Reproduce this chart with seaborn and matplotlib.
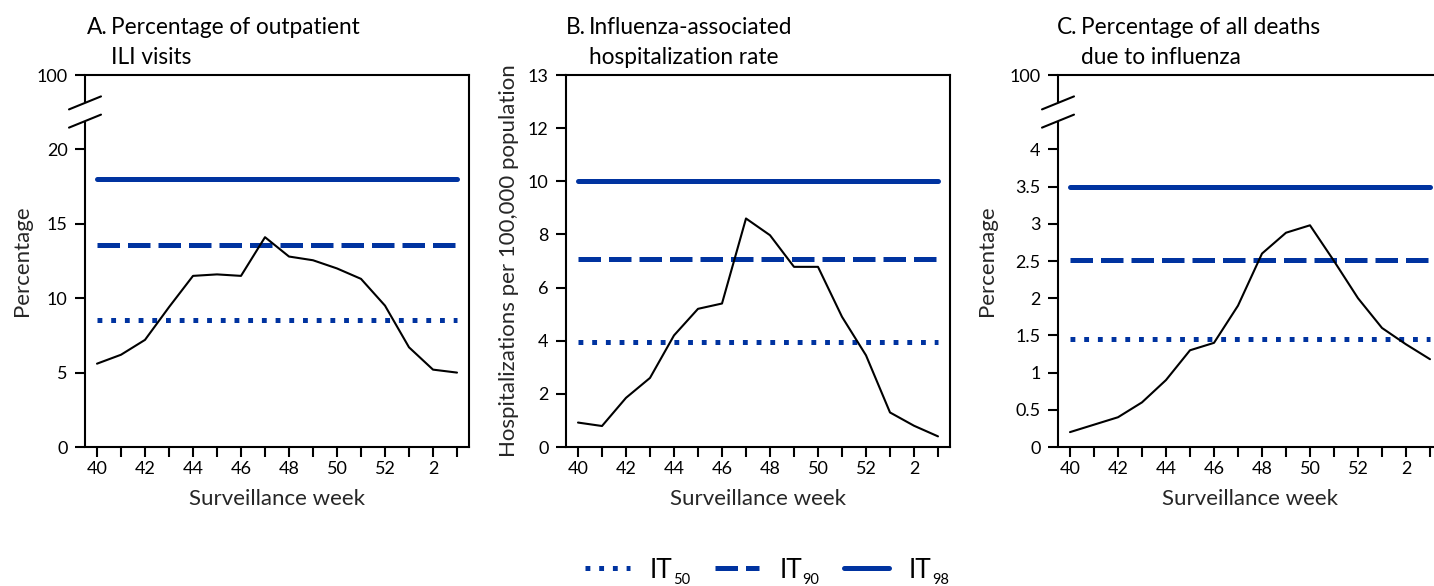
import numpy as np
import pandas as pd
import matplotlib
matplotlib.use("Agg")
import matplotlib.pyplot as plt
import seaborn as sns

# surveillance weeks (x axis) and tick labels
weeks = ["40", "41", "42", "43", "44", "45", "46", "47", "48", "49", "50", "51", "52", "1", "2", "3"]
week_ticklabels = ["40", "", "42", "", "44", "", "46", "", "48", "", "50", "", "52", "", "2", ""]

# A. percentage of outpatient ILI visits
ili_pct = [5.6, 6.2, 7.2, 9.4, 11.5, 11.6, 11.5, 14.1, 12.8, 12.55, 12.0, 11.3, 9.5, 6.7, 5.2, 5.0]
ili_thresholds = [8.55, 13.6, 18.0]          # IT50, IT90, IT98

# B. influenza-associated hospitalization rate
hosp_rate = [0.92, 0.79, 1.85, 2.6, 4.2, 5.2, 5.4, 8.6, 7.97, 6.78, 6.78, 4.9, 3.45, 1.3, 0.8, 0.4]
hosp_thresholds = [3.97, 7.08, 10.0]

# C. percentage of all deaths due to influenza
death_pct = [0.2, 0.3, 0.4, 0.6, 0.9, 1.3, 1.4, 1.9, 2.6, 2.88, 2.98, 2.5, 2.0, 1.6, 1.38, 1.18]
death_thresholds = [1.45, 2.51, 3.5]

threshold_names = ["IT", "IT", "IT"]
threshold_subs = ["50", "90", "98"]

BLUE = "#0033a0"
FONT = "Lato"

sns.set_style("ticks")
plt.rcParams["font.family"] = [FONT, "DejaVu Sans"]
plt.rcParams["axes.linewidth"] = 1.5
plt.rcParams["axes.edgecolor"] = "black"
plt.rcParams["xtick.major.width"] = 1.5
plt.rcParams["ytick.major.width"] = 1.5
plt.rcParams["xtick.major.size"] = 7
plt.rcParams["ytick.major.size"] = 7
plt.rcParams["xtick.color"] = "black"
plt.rcParams["ytick.color"] = "black"
plt.rcParams["text.color"] = "black"

W, H = 1434, 586
fig = plt.figure(figsize=(W / 100, H / 100), dpi=100)

it_styles = [(0, (0.97, 1.77)), (0, (4.5, 1.6)), "-"]


def px_ax(left, right):
    return fig.add_axes([left / W, (H - 447) / H, (right - left) / W, (447 - 75) / H])


def draw_panel(ax, values, thresholds, ymax, yticks, yticklabels, ylabel, ylabelpad, broken):
    x = np.arange(len(weeks))
    for thr, style in zip(thresholds, it_styles):
        df = pd.DataFrame({"week": x, "value": [thr] * len(x)})
        sns.lineplot(data=df, x="week", y="value", ax=ax, color=BLUE, lw=3.6,
                     linestyle=style, errorbar=None)
    sns.lineplot(x=x, y=values, ax=ax, color="black", lw=1.5, errorbar=None)

    ax.set_xlim(-0.5, 15.5)
    ax.set_ylim(0, ymax)
    ax.set_xticks(x)
    ax.set_xticklabels(week_ticklabels, fontsize=13)
    ax.set_yticks(yticks)
    ax.set_yticklabels(yticklabels, fontsize=13)
    ax.tick_params(axis="x", pad=3)
    ax.tick_params(axis="y", pad=5.5)
    ax.set_xlabel("Surveillance week", fontsize=16, labelpad=9)
    ax.set_ylabel(ylabel, fontsize=16, labelpad=ylabelpad)

    if broken:
        # axis break on the left spine
        ax.spines["left"].set_visible(False)
        lo, hi = 0.874, 0.927
        ax.plot([0, 0], [0, lo], transform=ax.transAxes, color="black", lw=1.5, clip_on=False,
                solid_capstyle="butt")
        ax.plot([0, 0], [hi, 1], transform=ax.transAxes, color="black", lw=1.5, clip_on=False,
                solid_capstyle="butt")
        dx, dy = 16 / 384, 6.5 / 372
        for yc in (0.876, 0.925):
            ax.plot([-dx, dx], [yc - dy, yc + dy], transform=ax.transAxes, color="black",
                    lw=1.5, clip_on=False)


axA = px_ax(85, 469)
axB = px_ax(566, 950)
axC = px_ax(1058, 1442)

draw_panel(axA, ili_pct, ili_thresholds, 25, [0, 5, 10, 15, 20, 25],
           ["0", "5", "10", "15", "20", "100"], "Percentage", 3, True)
draw_panel(axB, hosp_rate, hosp_thresholds, 14, [0, 2, 4, 6, 8, 10, 12, 14],
           ["0", "2", "4", "6", "8", "10", "12", "13"],
           "Hospitalizations per 100,000 population", 6.5, False)
draw_panel(axC, death_pct, death_thresholds, 5,
           [0, 0.5, 1, 1.5, 2, 2.5, 3, 3.5, 4, 5],
           ["0", "0.5", "1", "1.5", "2", "2.5", "3", "3.5", "4", "100"], "Percentage", 9, True)

# panel titles
titles = [
    (87, 111, "A.", "Percentage of outpatient\nILI visits"),
    (566, 589, "B.", "Influenza-associated\nhospitalization rate"),
    (1057, 1081, "C.", "Percentage of all deaths\ndue to influenza"),
]
for x0, x1, letter, text in titles:
    fig.text(x0 / W, 1 - 17 / H, letter, fontsize=16.3, ha="left", va="top")
    fig.text(x1 / W, 1 - 17 / H, text, fontsize=16.3, ha="left", va="top", linespacing=1.5)

handles = axA.get_lines()[:3]
leg = fig.legend(handles, threshold_names, loc="center left", bbox_to_anchor=(585 / W, 1 - 570 / H),
                 ncol=3, frameon=False, fontsize=19, handlelength=1.7, handletextpad=0.75,
                 columnspacing=1.6, borderpad=0, borderaxespad=0)

# subscripts for IT labels
fig.canvas.draw()
renderer = fig.canvas.get_renderer()
for txt, sub in zip(leg.get_texts(), threshold_subs):
    bb = txt.get_window_extent(renderer)
    fig.text((bb.x1 + 0.5) / W, 1.5 / H, sub, fontsize=10.5, ha="left", va="baseline")

fig.savefig("out.png", dpi=100)
